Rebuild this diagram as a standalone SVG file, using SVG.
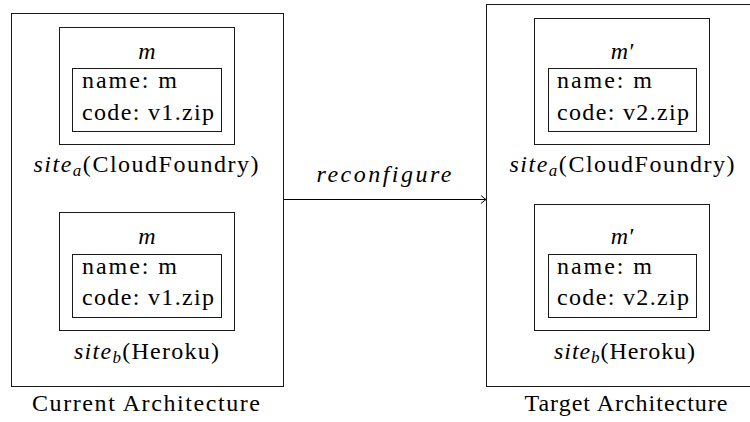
<svg xmlns="http://www.w3.org/2000/svg" width="750" height="422" viewBox="0 0 750 422">
<style>
  rect { fill: none !important; stroke: #1a1a1a !important; stroke-width: 1 !important; }
  svg g text, svg g tspan, text, tspan { font-family: "Liberation Serif", "Times New Roman", serif !important; }
  svg g text.t { font-size: 24px !important; }
  svg g text.it, svg g tspan.it { font-style: italic !important; }
  svg g tspan.sub { font-size: 17px !important; font-style: italic !important; }
</style>
<defs>
  <marker id="arrow" markerUnits="userSpaceOnUse" markerWidth="12" markerHeight="12" viewBox="-8 -6 10 12" refX="0" refY="0" orient="auto">
    <path d="M-5,-4 Q-1.5,-1 0,0 Q-1.5,1 -5,4" fill="none" stroke="#000" stroke-width="1"/>
  </marker>
</defs>
<g id="current-architecture">
  <rect x="11.5" y="13.5" width="272" height="373"/>
  <text class="t" font-family="Liberation Serif" font-size="24" text-anchor="middle" x="146" y="411" textLength="228" lengthAdjust="spacing">Current Architecture</text>
</g>
<g id="current-site-a">
  <rect x="59.5" y="27.5" width="175" height="117"/>
  <text class="t" font-family="Liberation Serif" font-size="24" text-anchor="middle" x="146" y="172" textLength="225" lengthAdjust="spacing"><tspan class="it">site</tspan><tspan class="sub" dy="4">a</tspan><tspan dy="-4">(CloudFoundry)</tspan></text>
</g>
<g id="current-m-a">
  <text class="t it" font-family="Liberation Serif" font-size="24" text-anchor="middle" x="147" y="59">m</text>
  <rect x="72.5" y="68.5" width="149" height="63"/>
  <text class="t" font-family="Liberation Serif" font-size="24" x="82" y="88" textLength="95" lengthAdjust="spacing">name: m</text>
  <text class="t" font-family="Liberation Serif" font-size="24" x="82" y="119.5" textLength="132" lengthAdjust="spacing">code: v1.zip</text>
</g>
<g id="current-site-b">
  <rect x="59.5" y="212.5" width="175" height="118"/>
  <text class="t" font-family="Liberation Serif" font-size="24" text-anchor="middle" x="146.5" y="359" textLength="145" lengthAdjust="spacing"><tspan class="it">site</tspan><tspan class="sub" dy="4">b</tspan><tspan dy="-4">(Heroku)</tspan></text>
</g>
<g id="current-m-b">
  <text class="t it" font-family="Liberation Serif" font-size="24" text-anchor="middle" x="147" y="244">m</text>
  <rect x="72.5" y="254.5" width="149" height="63"/>
  <text class="t" font-family="Liberation Serif" font-size="24" x="82" y="274" textLength="95" lengthAdjust="spacing">name: m</text>
  <text class="t" font-family="Liberation Serif" font-size="24" x="82" y="305" textLength="132" lengthAdjust="spacing">code: v1.zip</text>
</g>
<g id="target-architecture">
  <rect x="486.5" y="4.5" width="272" height="382"/>
  <text class="t" font-family="Liberation Serif" font-size="24" text-anchor="middle" x="626" y="411" textLength="203" lengthAdjust="spacing">Target Architecture</text>
</g>
<g id="target-site-a">
  <rect x="534.5" y="18.5" width="175" height="126"/>
  <text class="t" font-family="Liberation Serif" font-size="24" text-anchor="middle" x="622" y="172" textLength="225" lengthAdjust="spacing"><tspan class="it">site</tspan><tspan class="sub" dy="4">a</tspan><tspan dy="-4">(CloudFoundry)</tspan></text>
</g>
<g id="target-m-a">
  <text class="t it" font-family="Liberation Serif" font-size="24" text-anchor="middle" x="622" y="59">m′</text>
  <rect x="548.5" y="68.5" width="148" height="63"/>
  <text class="t" font-family="Liberation Serif" font-size="24" x="557" y="88" textLength="95" lengthAdjust="spacing">name: m</text>
  <text class="t" font-family="Liberation Serif" font-size="24" x="557" y="119.5" textLength="132" lengthAdjust="spacing">code: v2.zip</text>
</g>
<g id="target-site-b">
  <rect x="534.5" y="204.5" width="175" height="126"/>
  <text class="t" font-family="Liberation Serif" font-size="24" text-anchor="middle" x="624.5" y="359" textLength="141" lengthAdjust="spacing"><tspan class="it">site</tspan><tspan class="sub" dy="4">b</tspan><tspan dy="-4">(Heroku)</tspan></text>
</g>
<g id="target-m-b">
  <text class="t it" font-family="Liberation Serif" font-size="24" text-anchor="middle" x="622" y="244">m′</text>
  <rect x="548.5" y="254.5" width="148" height="63"/>
  <text class="t" font-family="Liberation Serif" font-size="24" x="557" y="274" textLength="95" lengthAdjust="spacing">name: m</text>
  <text class="t" font-family="Liberation Serif" font-size="24" x="557" y="305" textLength="132" lengthAdjust="spacing">code: v2.zip</text>
</g>
<g id="connectors">
  <line x1="284" y1="199.5" x2="486" y2="199.5" stroke="#000" stroke-width="1" marker-end="url(#arrow)"/>
  <text class="t it" font-family="Liberation Serif" font-size="24" text-anchor="middle" x="384" y="182" textLength="135" lengthAdjust="spacing">reconfigure</text>
</g>
</svg>
